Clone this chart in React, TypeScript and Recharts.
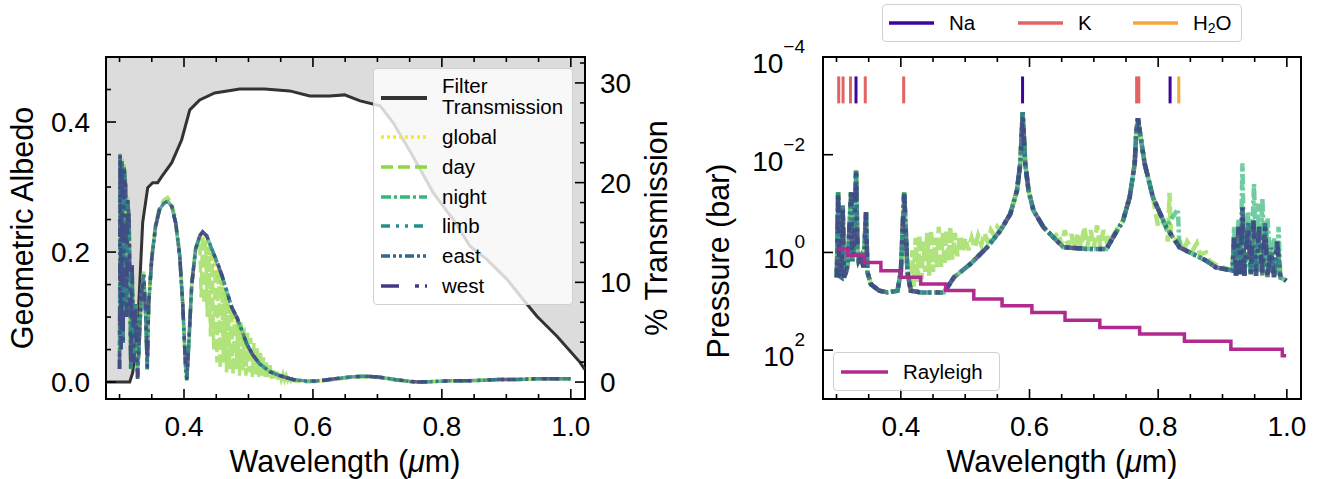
import React from 'react';
import { ComposedChart, Line, Area, XAxis, YAxis, ReferenceArea } from 'recharts';

const FONT = '"Liberation Sans", Arial, Helvetica, sans-serif';

// axis ticks
const xTicks = [0.3, 0.35, 0.4, 0.45, 0.5, 0.55, 0.6, 0.65, 0.7, 0.75, 0.8, 0.85, 0.9, 0.95, 1.0];
const xMajor = [0.4, 0.6, 0.8, 1.0];
const albTicks = [0, 0.05, 0.1, 0.15, 0.2, 0.25, 0.3, 0.35, 0.4, 0.45, 0.5];
const albMajor = [0, 0.2, 0.4];
const transTicks = [0, 2, 4, 6, 8, 10, 12, 14, 16, 18, 20, 22, 24, 26, 28, 30, 32];
const transMajor = [0, 10, 20, 30];
const presTicks = [1e-4, 1e-2, 1, 100];

// filter transmission (%) vs wavelength (um)
const filterTrans: [number, number][] = [
  [0.279, 0], [0.3158, 0], [0.3204, 0.95], [0.328, 5.3], [0.3359, 16.0], [0.3437, 19.5],
  [0.3514, 20.0], [0.3592, 20.0], [0.3654, 20.6], [0.381, 22.0], [0.3964, 24.3], [0.409, 27.3],
  [0.4244, 28.3], [0.4476, 29.0], [0.4864, 29.4], [0.525, 29.4], [0.564, 29.2], [0.595, 28.7],
  [0.626, 28.7], [0.649, 28.8], [0.6733, 28.2], [0.7043, 27.7], [0.7245, 26.0], [0.7555, 22.6],
  [0.7865, 19.0], [0.8176, 16.3], [0.844, 13.6], [0.8697, 12.3], [0.901, 10.3], [0.9257, 8.3],
  [0.9474, 6.6], [0.9785, 4.6], [1.014, 2.0], [1.022, 1.25],
];

// geometric albedo
const albedoBase: [number, number][] = [
  [0.3, 0.02], [0.3008, 0.35], [0.3024, 0.05], [0.304, 0.34], [0.3056, 0.06], [0.3072, 0.33],
  [0.3095, 0.3], [0.311, 0.1], [0.3127, 0.28], [0.315, 0.25], [0.3173, 0.02], [0.3196, 0.18],
  [0.322, 0.03], [0.325, 0.12], [0.328, 0.005], [0.3313, 0.08], [0.3344, 0.14], [0.3375, 0.165],
  [0.3406, 0.1], [0.343, 0.02], [0.3452, 0.12], [0.35, 0.19], [0.356, 0.24], [0.362, 0.265],
  [0.3685, 0.275], [0.3747, 0.278], [0.381, 0.27], [0.387, 0.245], [0.3933, 0.195], [0.398, 0.12],
  [0.4026, 0.02], [0.4042, 0.003], [0.407, 0.05], [0.412, 0.15], [0.418, 0.205], [0.4244, 0.225],
  [0.429, 0.231], [0.4352, 0.225], [0.443, 0.205], [0.4507, 0.186], [0.4585, 0.165], [0.4663, 0.14],
  [0.474, 0.115], [0.4818, 0.1], [0.4895, 0.08], [0.4973, 0.059], [0.5066, 0.042], [0.5174, 0.028],
  [0.533, 0.016], [0.5485, 0.01], [0.5687, 0.004], [0.5904, 0.0015], [0.6106, 0.002], [0.6339, 0.005],
  [0.6572, 0.008], [0.6774, 0.009], [0.7007, 0.008], [0.727, 0.004], [0.7503, 0.001], [0.7659, 0.0],
  [0.789, 0.001], [0.8123, 0.002], [0.8387, 0.002], [0.8666, 0.003], [0.89, 0.004], [0.916, 0.004],
  [0.944, 0.005], [0.9705, 0.005], [1.0, 0.005],
];

const albedoGlobal: [number, number][] = [
  [0.3, 0.02], [0.3008, 0.34], [0.3024, 0.05], [0.304, 0.33], [0.3056, 0.06], [0.3072, 0.32],
  [0.3095, 0.3], [0.311, 0.1], [0.3127, 0.28], [0.315, 0.25], [0.3173, 0.02], [0.3196, 0.18],
  [0.322, 0.03], [0.325, 0.12], [0.328, 0.005], [0.3313, 0.08], [0.3344, 0.14], [0.3375, 0.165],
  [0.3406, 0.1], [0.343, 0.02], [0.3452, 0.12], [0.35, 0.19], [0.356, 0.24], [0.362, 0.265],
  [0.3685, 0.275], [0.3747, 0.278], [0.381, 0.27], [0.387, 0.245], [0.3933, 0.195], [0.398, 0.12],
  [0.4026, 0.02], [0.4042, 0.003], [0.407, 0.05], [0.412, 0.15], [0.418, 0.205], [0.4244, 0.222],
  [0.429, 0.226], [0.4352, 0.215], [0.443, 0.19], [0.4507, 0.168], [0.4585, 0.148], [0.4663, 0.126],
  [0.474, 0.104], [0.4818, 0.09], [0.4895, 0.074], [0.4973, 0.055], [0.5066, 0.04], [0.5174, 0.027],
  [0.533, 0.016], [0.5485, 0.01], [0.5687, 0.004], [0.5904, 0.0015], [0.6106, 0.002], [0.6339, 0.005],
  [0.6572, 0.008], [0.6774, 0.009], [0.7007, 0.008], [0.727, 0.004], [0.7503, 0.001], [0.7659, 0.0],
  [0.789, 0.001], [0.8123, 0.002], [0.8387, 0.002], [0.8666, 0.003], [0.89, 0.004], [0.916, 0.004],
  [0.944, 0.005], [0.9705, 0.005], [1.0, 0.005],
];

const albedoDay: [number, number][] = [
  [0.3, 0.02], [0.3008, 0.355], [0.3024, 0.05], [0.304, 0.345], [0.3056, 0.06], [0.3072, 0.335],
  [0.3095, 0.305], [0.311, 0.1], [0.3127, 0.285], [0.315, 0.255], [0.3173, 0.02], [0.3196, 0.18],
  [0.322, 0.03], [0.325, 0.12], [0.328, 0.005], [0.3313, 0.08], [0.3344, 0.145], [0.3375, 0.17],
  [0.3406, 0.1], [0.343, 0.02], [0.3452, 0.12], [0.35, 0.195], [0.356, 0.245], [0.362, 0.27],
  [0.3685, 0.28], [0.3747, 0.284], [0.381, 0.276], [0.387, 0.25], [0.3933, 0.198], [0.398, 0.12],
  [0.4026, 0.02], [0.4042, 0.003], [0.407, 0.05], [0.412, 0.15], [0.418, 0.205], [0.4244, 0.22],
  [0.4265, 0.13], [0.429, 0.225], [0.431, 0.12], [0.4335, 0.218], [0.436, 0.1], [0.4385, 0.208],
  [0.441, 0.07], [0.4435, 0.198], [0.446, 0.05], [0.4485, 0.188], [0.451, 0.03], [0.4535, 0.175],
  [0.456, 0.02], [0.4585, 0.16], [0.461, 0.03], [0.4635, 0.145], [0.466, 0.015], [0.4685, 0.13],
  [0.471, 0.02], [0.4735, 0.115], [0.476, 0.012], [0.4785, 0.106], [0.481, 0.02], [0.4835, 0.1],
  [0.486, 0.01], [0.4885, 0.092], [0.491, 0.018], [0.4935, 0.084], [0.496, 0.01], [0.4985, 0.076],
  [0.501, 0.015], [0.5035, 0.068], [0.506, 0.008], [0.5085, 0.06], [0.511, 0.012], [0.5135, 0.052],
  [0.516, 0.008], [0.5185, 0.045], [0.521, 0.01], [0.5235, 0.038], [0.526, 0.006], [0.5285, 0.032],
  [0.531, 0.008], [0.5335, 0.026], [0.536, 0.005], [0.5385, 0.022], [0.541, 0.006], [0.5435, 0.018],
  [0.546, 0.004], [0.5485, 0.015], [0.551, 0.004], [0.5535, 0.012], [0.556, 0.003], [0.5585, 0.01],
  [0.561, 0.003], [0.5635, 0.008], [0.566, 0.002], [0.5685, 0.005], [0.571, 0.002], [0.5904, 0.0],
  [0.6106, 0.001], [0.6339, 0.004], [0.6572, 0.007], [0.6774, 0.008], [0.7007, 0.007], [0.727, 0.003],
  [0.7503, 0.001], [0.7659, 0.0], [0.789, 0.001], [0.8123, 0.002], [0.8387, 0.002], [0.8666, 0.003],
  [0.89, 0.004], [0.916, 0.004], [0.944, 0.005], [0.9705, 0.005], [1.0, 0.005],
];

// photosphere pressure (bar)
const presBase: [number, number][] = [
  [0.3005, 3.24], [0.3025, 0.0585], [0.3045, 3.0], [0.3075, 3.2], [0.3097, 0.11], [0.3115, 3.24],
  [0.3149, 2.5], [0.3175, 1.7], [0.3227, 0.0585], [0.3245, 1.5], [0.3268, 1.0], [0.3304, 0.021],
  [0.3325, 0.8], [0.3345, 1.47], [0.3381, 1.2], [0.342, 2.0], [0.3459, 0.15], [0.348, 2.5],
  [0.3536, 4.5], [0.3665, 6.08], [0.3794, 6.58], [0.3948, 6.08], [0.4, 2.5], [0.4052, 0.0585],
  [0.4103, 2.5], [0.4155, 6.08], [0.4309, 6.58], [0.4516, 6.58], [0.4671, 6.58], [0.4825, 3.24],
  [0.5083, 1.72], [0.5341, 0.785], [0.5547, 0.357], [0.5702, 0.162], [0.5805, 0.054], [0.5856, 0.0153],
  [0.5882, 0.00318], [0.5892, 0.00135], [0.5908, 0.00318], [0.5934, 0.0153], [0.5985, 0.054],
  [0.6062, 0.139], [0.6217, 0.305], [0.6372, 0.49], [0.6526, 0.785], [0.6887, 0.847], [0.7196, 0.847],
  [0.73, 0.49], [0.7454, 0.223], [0.7557, 0.074], [0.7635, 0.0153], [0.7661, 0.00318], [0.7686, 0.0018],
  [0.7712, 0.00318], [0.779, 0.0153], [0.7918, 0.074], [0.8125, 0.305], [0.8331, 0.785], [0.8537, 1.07],
  [0.8743, 1.47], [0.8898, 2.02], [0.9156, 2.36], [0.918, 0.5], [0.921, 3.0], [0.925, 0.3],
  [0.928, 2.8], [0.931, 0.12], [0.934, 3.0], [0.94, 0.25], [0.944, 2.8], [0.948, 0.22],
  [0.952, 3.0], [0.957, 0.3], [0.962, 3.0], [0.966, 0.25], [0.97, 3.2], [0.975, 0.8],
  [0.98, 3.2], [0.985, 0.6], [0.99, 3.3], [0.995, 3.5], [0.999, 3.8],
];

const presDay: [number, number][] = [
  [0.3005, 3.24], [0.3025, 0.0585], [0.3045, 3.0], [0.3075, 3.2], [0.3097, 0.11], [0.3115, 3.24],
  [0.3149, 2.5], [0.3175, 1.7], [0.3227, 0.0585], [0.3245, 1.5], [0.3268, 1.0], [0.3304, 0.021],
  [0.3325, 0.8], [0.3345, 1.47], [0.3381, 1.2], [0.342, 2.0], [0.3459, 0.15], [0.348, 2.5],
  [0.3536, 4.5], [0.3665, 6.08], [0.3794, 6.58], [0.3948, 6.08], [0.4, 2.5], [0.4052, 0.0585],
  [0.4103, 2.5], [0.4155, 6.08], [0.418, 0.9], [0.42, 5.0], [0.423, 0.5], [0.426, 4.0],
  [0.429, 0.45], [0.432, 3.5], [0.435, 0.6], [0.438, 2.5], [0.441, 0.4], [0.444, 3.0],
  [0.447, 0.35], [0.45, 2.5], [0.453, 0.5], [0.456, 2.0], [0.459, 0.3], [0.462, 2.2],
  [0.465, 0.4], [0.468, 1.8], [0.471, 0.35], [0.474, 1.5], [0.477, 0.3], [0.48, 1.4],
  [0.484, 0.4], [0.488, 1.2], [0.492, 0.45], [0.496, 1.0], [0.5, 0.5], [0.505, 0.9],
  [0.51, 0.5], [0.515, 0.8], [0.52, 0.45], [0.525, 0.7], [0.53, 0.4], [0.535, 0.6],
  [0.54, 0.35], [0.545, 0.45], [0.55, 0.3], [0.5547, 0.357], [0.5702, 0.162], [0.5805, 0.054],
  [0.5856, 0.0153], [0.5882, 0.00318], [0.5892, 0.00135], [0.5908, 0.00318], [0.5934, 0.0153],
  [0.5985, 0.054], [0.6062, 0.139], [0.6217, 0.305], [0.6372, 0.49], [0.645, 0.4], [0.65, 0.7],
  [0.655, 0.35], [0.66, 0.75], [0.665, 0.42], [0.67, 0.8], [0.675, 0.4], [0.68, 0.8],
  [0.685, 0.3], [0.69, 0.75], [0.695, 0.35], [0.7, 0.8], [0.705, 0.28], [0.71, 0.75],
  [0.715, 0.35], [0.72, 0.6], [0.725, 0.4], [0.73, 0.45], [0.7454, 0.223], [0.7557, 0.074],
  [0.7635, 0.0153], [0.7661, 0.00318], [0.7686, 0.0018], [0.7712, 0.00318], [0.779, 0.0153],
  [0.7918, 0.074], [0.8, 0.3], [0.808, 0.25], [0.8125, 0.3], [0.815, 0.6], [0.8176, 0.06],
  [0.82, 0.5], [0.825, 0.55], [0.8331, 0.6], [0.84, 0.9], [0.845, 0.6], [0.8537, 0.9],
  [0.86, 0.65], [0.865, 1.1], [0.8743, 1.0], [0.88, 1.5], [0.8898, 1.8], [0.9156, 2.36],
  [0.918, 0.5], [0.921, 3.0], [0.925, 0.3], [0.928, 2.8], [0.931, 0.12], [0.934, 3.0],
  [0.94, 0.25], [0.944, 2.8], [0.948, 0.22], [0.952, 3.0], [0.957, 0.3], [0.962, 3.0],
  [0.966, 0.25], [0.97, 3.2], [0.975, 0.8], [0.98, 3.2], [0.985, 0.6], [0.99, 3.3],
  [0.995, 3.5], [0.999, 3.8],
];

const presNight: [number, number][] = [
  [0.3005, 3.24], [0.3025, 0.0585], [0.3045, 3.0], [0.3075, 3.2], [0.3097, 0.11], [0.3115, 3.24],
  [0.3149, 2.5], [0.3175, 1.7], [0.3227, 0.0585], [0.3245, 1.5], [0.3268, 1.0], [0.3304, 0.021],
  [0.3325, 0.8], [0.3345, 1.47], [0.3381, 1.2], [0.342, 2.0], [0.3459, 0.15], [0.348, 2.5],
  [0.3536, 4.5], [0.3665, 6.08], [0.3794, 6.58], [0.3948, 6.08], [0.4, 2.5], [0.4052, 0.0585],
  [0.4103, 2.5], [0.4155, 6.08], [0.4309, 6.58], [0.4516, 6.58], [0.4671, 6.58], [0.4825, 3.24],
  [0.5083, 1.72], [0.5341, 0.785], [0.5547, 0.357], [0.5702, 0.162], [0.5805, 0.054], [0.5856, 0.0153],
  [0.5882, 0.00318], [0.5892, 0.00135], [0.5908, 0.00318], [0.5934, 0.0153], [0.5985, 0.054],
  [0.6062, 0.139], [0.6217, 0.305], [0.6372, 0.49], [0.6526, 0.785], [0.6887, 0.847], [0.7196, 0.847],
  [0.73, 0.49], [0.7454, 0.223], [0.7557, 0.074], [0.7635, 0.0153], [0.7661, 0.00318], [0.7686, 0.0018],
  [0.7712, 0.00318], [0.779, 0.0153], [0.7918, 0.074], [0.8125, 0.305], [0.8305, 0.13], [0.8331, 0.785],
  [0.8537, 1.07], [0.8743, 1.47], [0.8898, 2.02], [0.9156, 2.36], [0.918, 0.3], [0.921, 3.0],
  [0.925, 0.2], [0.928, 2.8], [0.931, 0.015], [0.934, 3.0], [0.94, 0.15], [0.944, 2.8],
  [0.949, 0.04], [0.952, 2.0], [0.955, 0.1], [0.958, 2.5], [0.962, 0.08], [0.966, 2.0],
  [0.97, 0.2], [0.975, 2.5], [0.98, 0.5], [0.985, 3.0], [0.987, 0.3], [0.99, 3.3],
  [0.995, 3.5], [0.999, 3.8],
];

// Rayleigh photosphere (step)
const rayleigh: [number, number][] = [
  [0.3021, 0.85], [0.3176, 1.16], [0.3433, 1.6], [0.369, 2.36], [0.4, 3.24], [0.4309, 4.43],
  [0.4696, 6.03], [0.5134, 9.0], [0.5573, 12.3], [0.6037, 17], [0.6552, 24.3], [0.7093, 34.3],
  [0.7712, 46.8], [0.8408, 66], [0.913, 95.5], [0.9929, 131], [0.999, 131],
];

// absorption line positions (um)
const naLines = [0.3303, 0.5892, 0.8185];
const kLines = [0.3034, 0.3102, 0.3217, 0.3447, 0.4044, 0.7665, 0.7699];
const h2oLines = [0.832];
const lineTop = 2.5e-4;
const lineBottom = 8.9e-4;

const toXY = (arr: [number, number][]) => arr.map(([x, y]) => ({ x, y }));

const albSeries = [
  { name: 'global', color: '#fde725', dash: '3 3', data: albedoGlobal, pres: presBase },
  { name: 'day', color: '#8fd744', dash: '12 5', data: albedoDay, pres: presDay },
  { name: 'night', color: '#35b779', dash: '10 3 3 3', data: albedoBase, pres: presNight },
  { name: 'limb', color: '#21908d', dash: '9 6 3 6 3 6', data: albedoBase, pres: presBase },
  { name: 'east', color: '#31688e', dash: '9 3 3 3 3 3', data: albedoBase, pres: presBase },
  { name: 'west', color: '#443a83', dash: '18 16 4 6', data: albedoBase, pres: presBase },
];

const markerGroups = [
  { name: 'Na', color: '#3e049c', lines: naLines },
  { name: 'K', color: '#e16462', lines: kLines },
  { name: 'H2O', color: '#fca636', lines: h2oLines },
];

const X_DOMAIN: [number, number] = [0.279, 1.022];
const ALB_DOMAIN: [number, number] = [-0.026, 0.5];
const TRANS_DOMAIN: [number, number] = [-1.7, 32.6];
const PRES_DOMAIN: [number, number] = [1e-4, 1e3];
const PLOT_H = 342;

const near = (v: number, list: number[]) => list.some((m) => Math.abs(m - v) < 1e-9);

const BottomTick = (props: any) => {
  const { x, y, payload } = props;
  const v = payload.value;
  const major = near(v, xMajor);
  const len = major ? 10 : 5;
  return (
    <g>
      <line x1={x} x2={x} y1={y} y2={y - len} stroke="#000" strokeWidth={1.6} />
      <line x1={x} x2={x} y1={y - PLOT_H} y2={y - PLOT_H + len} stroke="#000" strokeWidth={1.6} />
      {major && (
        <text x={x} y={y + 37} textAnchor="middle" fontSize={28} fontFamily={FONT} fill="#000">
          {v.toFixed(1)}
        </text>
      )}
    </g>
  );
};

const AlbTick = (props: any) => {
  const { x, y, payload } = props;
  const v = payload.value;
  const major = near(v, albMajor);
  const len = major ? 10 : 5;
  return (
    <g>
      <line x1={x} x2={x + len} y1={y} y2={y} stroke="#000" strokeWidth={1.6} />
      {major && (
        <text x={x - 16} y={y + 10} textAnchor="end" fontSize={28} fontFamily={FONT} fill="#000">
          {v.toFixed(1)}
        </text>
      )}
    </g>
  );
};

const TransTick = (props: any) => {
  const { x, y, payload } = props;
  const v = payload.value;
  const major = near(v, transMajor);
  const len = major ? 10 : 5;
  return (
    <g>
      <line x1={x} x2={x - len} y1={y} y2={y} stroke="#000" strokeWidth={1.6} />
      {major && (
        <text x={x + 15} y={y + 10} textAnchor="start" fontSize={28} fontFamily={FONT} fill="#000">
          {v}
        </text>
      )}
    </g>
  );
};

const LogTick = (props: any) => {
  const { x, y, payload } = props;
  const e = Math.round(Math.log10(payload.value));
  return (
    <g>
      <line x1={x} x2={x + 10} y1={y} y2={y} stroke="#000" strokeWidth={1.6} />
      <text x={x - 18} y={y + 16} textAnchor="end" fontSize={28} fontFamily={FONT} fill="#000">
        10
        <tspan dy={-20} fontSize={19}>
          {e < 0 ? `\u2212${-e}` : `${e}`}
        </tspan>
      </text>
    </g>
  );
};

const Title = (props: any) => {
  const { tx, ty, rotate, children } = props;
  return (
    <text
      x={tx}
      y={ty}
      textAnchor="middle"
      fontSize={30.5}
      fontFamily={FONT}
      fill="#000"
      transform={rotate ? `rotate(-90, ${tx}, ${ty})` : undefined}
    >
      {children}
    </text>
  );
};

const Sample = ({ color, dash, width = 46, sw = 3.5 }: any) => (
  <svg width={width} height={8} style={{ position: 'absolute', top: -4, left: 0 }}>
    <line x1={0} x2={width} y1={4} y2={4} stroke={color} strokeWidth={sw} strokeDasharray={dash} />
  </svg>
);

const legendText: React.CSSProperties = {
  position: 'absolute',
  fontFamily: FONT,
  fontSize: 20.5,
  lineHeight: '21px',
  color: '#000',
  whiteSpace: 'nowrap',
};

const boxStyle: React.CSSProperties = {
  position: 'absolute',
  background: 'rgba(255,255,255,0.8)',
  border: '1px solid #d0d0d0',
  borderRadius: 4,
  boxSizing: 'border-box',
};

const AlbedoPanel = () => {
  const filterLine = toXY(filterTrans);
  const filterBand = filterTrans.map(([x, t]) => ({ x, band: [t, TRANS_DOMAIN[1]] }));
  return (
    <ComposedChart width={690} height={479} margin={{ top: 57, right: 0, bottom: 0, left: 0 }}>
      <XAxis
        type="number"
        dataKey="x"
        domain={X_DOMAIN}
        allowDataOverflow
        ticks={xTicks}
        interval={0}
        tickSize={0}
        tickMargin={0}
        tickLine={false}
        axisLine={false}
        height={80}
        tick={<BottomTick />}
        label={<Title tx={345} ty={472}>Wavelength (<tspan fontStyle="italic">μ</tspan>m)</Title>}
      />
      <YAxis
        yAxisId="alb"
        type="number"
        domain={ALB_DOMAIN}
        allowDataOverflow
        ticks={albTicks}
        interval={0}
        tickSize={0}
        tickMargin={0}
        tickLine={false}
        axisLine={false}
        width={106}
        tick={<AlbTick />}
        label={<Title tx={33} ty={228} rotate>Geometric Albedo</Title>}
      />
      <YAxis
        yAxisId="trans"
        orientation="right"
        type="number"
        domain={TRANS_DOMAIN}
        allowDataOverflow
        ticks={transTicks}
        interval={0}
        tickSize={0}
        tickMargin={0}
        tickLine={false}
        axisLine={false}
        width={105}
        tick={<TransTick />}
        label={<Title tx={667} ty={228} rotate>% Transmission</Title>}
      />
      <Area
        yAxisId="trans"
        data={filterBand}
        dataKey="band"
        type="linear"
        fill="#dcdcdc"
        fillOpacity={1}
        stroke="none"
        isAnimationActive={false}
      />
      <Line
        yAxisId="trans"
        data={filterLine}
        dataKey="y"
        type="linear"
        stroke="#333333"
        strokeWidth={3}
        dot={false}
        isAnimationActive={false}
      />
      {albSeries.map((s) => (
        <Line
          key={s.name}
          yAxisId="alb"
          data={toXY(s.data)}
          dataKey="y"
          name={s.name}
          type="linear"
          stroke={s.color}
          strokeOpacity={0.7}
          strokeWidth={3.5}
          strokeDasharray={s.dash}
          dot={false}
          isAnimationActive={false}
        />
      ))}
      <ReferenceArea
        yAxisId="alb"
        x1={X_DOMAIN[0]}
        x2={X_DOMAIN[1]}
        y1={ALB_DOMAIN[0]}
        y2={ALB_DOMAIN[1]}
        ifOverflow="visible"
        fill="none"
        fillOpacity={0}
        stroke="#000"
        strokeWidth={2}
      />
    </ComposedChart>
  );
};

const PressurePanel = () => (
  <ComposedChart width={662} height={479} margin={{ top: 57, right: 21, bottom: 0, left: 0 }}>
    <XAxis
      type="number"
      dataKey="x"
      domain={X_DOMAIN}
      allowDataOverflow
      ticks={xTicks}
      interval={0}
      tickSize={0}
      tickMargin={0}
      tickLine={false}
      axisLine={false}
      height={80}
      tick={<BottomTick />}
      label={<Title tx={402} ty={472}>Wavelength (<tspan fontStyle="italic">μ</tspan>m)</Title>}
    />
    <YAxis
      type="number"
      scale="log"
      reversed
      domain={PRES_DOMAIN}
      allowDataOverflow
      ticks={presTicks}
      interval={0}
      tickSize={0}
      tickMargin={0}
      tickLine={false}
      axisLine={false}
      width={163}
      tick={<LogTick />}
      label={<Title tx={69} ty={261} rotate>Pressure (bar)</Title>}
    />
    {albSeries.map((s) => (
      <Line
        key={s.name}
        data={toXY(s.pres)}
        dataKey="y"
        name={s.name}
        type="linear"
        stroke={s.color}
        strokeOpacity={0.7}
        strokeWidth={4.5}
        strokeDasharray={s.dash}
        dot={false}
        isAnimationActive={false}
      />
    ))}
    <Line
      data={toXY(rayleigh)}
      dataKey="y"
      name="Rayleigh"
      type="stepAfter"
      stroke="#b12a90"
      strokeWidth={3.5}
      dot={false}
      isAnimationActive={false}
    />
    {markerGroups.flatMap((g) =>
      g.lines.map((w) => (
        <Line
          key={`${g.name}-${w}`}
          data={[
            { x: w, y: lineTop },
            { x: w, y: lineBottom },
          ]}
          dataKey="y"
          type="linear"
          stroke={g.color}
          strokeWidth={3}
          dot={false}
          isAnimationActive={false}
        />
      ))
    )}
    <ReferenceArea
      x1={X_DOMAIN[0]}
      x2={X_DOMAIN[1]}
      y1={PRES_DOMAIN[0]}
      y2={PRES_DOMAIN[1]}
      ifOverflow="visible"
      fill="none"
      fillOpacity={0}
      stroke="#000"
      strokeWidth={2}
    />
  </ComposedChart>
);

export default function App() {
  const rowTops = [68, 98, 128, 157, 187, 217];
  return (
    <div style={{ position: 'absolute', left: 0, top: 0, width: 1322, height: 479, background: '#fff' }}>
      <div style={{ position: 'absolute', left: 660, top: 0 }}>
        <PressurePanel />
      </div>
      <div style={{ position: 'absolute', left: 0, top: 0, width: 690, height: 479, pointerEvents: 'none' }}>
        <AlbedoPanel />
      </div>

      {/* albedo legend */}
      <div style={{ ...boxStyle, left: 373, top: 68, width: 200, height: 237 }}>
        <div style={{ position: 'absolute', left: 7, top: 29 }}>
          <Sample color="#333333" dash={undefined} sw={4} />
        </div>
        <div style={{ ...legendText, left: 68, top: 6 }}>
          Filter
          <br />
          Transmission
        </div>
        {albSeries.map((s, i) => (
          <React.Fragment key={s.name}>
            <div style={{ position: 'absolute', left: 7, top: rowTops[i] }}>
              <Sample color={s.color} dash={s.dash} />
            </div>
            <div style={{ ...legendText, left: 68, top: rowTops[i] - 11 }}>{s.name}</div>
          </React.Fragment>
        ))}
      </div>

      {/* species legend */}
      <div style={{ ...boxStyle, left: 882, top: 4, width: 360, height: 38 }}>
        {markerGroups.map((g, i) => {
          const lx = [6, 135, 250][i];
          return (
            <React.Fragment key={g.name}>
              <div style={{ position: 'absolute', left: lx, top: 18 }}>
                <Sample color={g.color} dash={undefined} width={45} />
              </div>
              <div style={{ ...legendText, left: lx + 60, top: 7 }}>
                {g.name === 'H2O' ? (
                  <span>
                    H<sub style={{ fontSize: 14, verticalAlign: '-3px', lineHeight: 0 }}>2</sub>O
                  </span>
                ) : (
                  g.name
                )}
              </div>
            </React.Fragment>
          );
        })}
      </div>

      {/* Rayleigh legend */}
      <div style={{ ...boxStyle, left: 833, top: 352, width: 167, height: 39 }}>
        <div style={{ position: 'absolute', left: 7, top: 19 }}>
          <Sample color="#b12a90" dash={undefined} width={47} />
        </div>
        <div style={{ ...legendText, left: 69, top: 8 }}>Rayleigh</div>
      </div>
    </div>
  );
}
